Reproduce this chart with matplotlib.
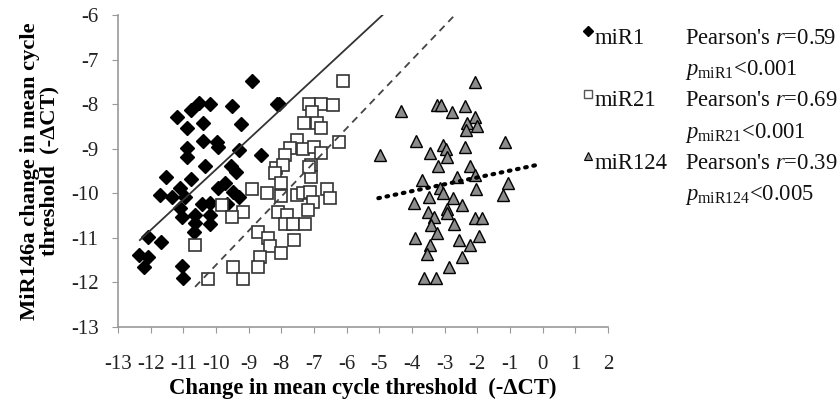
import matplotlib
matplotlib.use("Agg")
import matplotlib.pyplot as plt

plt.rcParams['font.family'] = ['Liberation Serif', 'DejaVu Serif']
plt.rcParams['mathtext.fontset'] = 'custom'
plt.rcParams['mathtext.rm'] = 'Liberation Serif'
plt.rcParams['mathtext.it'] = 'Liberation Serif:italic'
plt.rcParams['axes.unicode_minus'] = False

# miR1 (diamonds)
mir1_x = [-8.91, -11.20, -10.77, -10.51, -10.18, -9.51, -8.12, -8.06, -10.88, -10.41,
          -9.23, -10.39, -9.98, -9.93, -10.90, -10.88, -9.29, -8.63, -10.34, -9.55,
          -9.39, -11.53, -10.77, -11.71, -11.10, -11.36, -10.95, -9.93, -9.72, -9.47,
          -9.29, -10.44, -10.18, -9.67, -11.10, -11.05, -10.64, -10.18, -10.64, -10.18,
          -10.66, -12.09, -11.69, -12.35, -12.07, -12.19, -11.05, -11.00]
mir1_y = [-7.47, -8.28, -8.13, -7.97, -8.00, -8.04, -8.00, -8.00, -8.54, -8.43,
          -8.45, -8.82, -8.84, -8.97, -8.99, -9.18, -9.03, -9.14, -9.39, -9.39,
          -9.52, -9.64, -9.67, -10.03, -9.89, -10.09, -10.08, -9.89, -9.78, -9.96,
          -10.08, -10.23, -10.21, -10.23, -10.34, -10.53, -10.49, -10.49, -10.67, -10.69,
          -10.86, -10.99, -11.09, -11.39, -11.42, -11.66, -11.63, -11.91]

# miR21 (open squares)
mir21_x = [-6.10, -7.14, -6.80, -6.43, -7.07, -7.31, -6.92, -6.77, -7.51, -7.74,
           -7.33, -6.99, -6.77, -6.24, -7.89, -8.16, -7.94, -7.10, -8.19, -7.10,
           -8.02, -8.91, -8.43, -8.02, -7.51, -7.35, -7.12, -6.59, -6.51, -7.04,
           -7.17, -9.83, -9.16, -9.52, -8.10, -7.84, -7.89, -7.63, -7.28, -10.64,
           -8.71, -8.40, -8.35, -7.61, -8.02, -8.65, -8.71, -9.47, -9.18, -10.24,
           -7.14]
mir21_y = [-7.47, -8.00, -8.00, -8.02, -8.17, -8.43, -8.42, -8.54, -8.80, -8.99,
           -9.01, -8.97, -9.09, -8.84, -9.14, -9.44, -9.37, -9.37, -9.55, -9.63,
           -9.78, -9.91, -10.00, -10.06, -10.04, -10.00, -9.96, -9.91, -10.11, -10.19,
           -10.37, -10.26, -10.41, -10.54, -10.41, -10.49, -10.69, -10.69, -10.69, -11.16,
           -10.86, -11.01, -11.18, -11.05, -11.35, -11.42, -11.66, -11.65, -11.93, -11.93,
           -9.40]

# miR124 (grey triangles)
mir124_x = [-2.07, -4.35, -3.23, -3.11, -2.76, -2.38, -2.07, -2.31, -2.00, -2.35,
            -3.88, -3.06, -2.96, -3.45, -2.94, -2.38, -1.15, -4.98, -3.20, -2.21,
            -2.07, -2.63, -3.70, -3.14, -3.04, -3.47, -2.74, -2.04, -1.05, -1.22,
            -3.94, -2.47, -2.92, -3.50, -2.92, -3.33, -2.07, -1.87, -3.43, -2.72,
            -3.23, -3.91, -2.55, -1.94, -3.45, -2.21, -3.55, -2.47, -2.86, -3.63,
            -3.27]
mir124_y = [-7.50, -8.15, -8.02, -8.02, -8.17, -8.04, -8.28, -8.43, -8.49, -8.57,
            -8.83, -8.92, -9.01, -9.09, -9.19, -8.97, -8.84, -9.14, -9.39, -9.39,
            -9.59, -9.64, -9.70, -9.89, -10.00, -10.09, -10.11, -9.91, -9.78, -10.04,
            -10.21, -10.26, -10.36, -10.41, -10.45, -10.54, -10.56, -10.56, -10.71, -10.69,
            -10.88, -11.01, -11.05, -10.96, -11.16, -11.16, -11.36, -11.42, -11.65, -11.91,
            -11.91]

# trend lines, endpoints
fit1_x, fit1_y = [-12.33, -4.90], [-11.05, -6.00]
fit21_x, fit21_y = [-10.64, -2.74], [-12.10, -6.04]
fit124_x, fit124_y = [-5.03, -0.08], [-10.11, -9.35]

series_names = ['miR1', 'miR21', 'miR124']
pearson_r = ['0.59', '0.69', '0.39']
p_values = ['<0.001', '<0.001', '<0.005']

fig = plt.figure(figsize=(8.38, 4.0), dpi=100)
ax = fig.add_axes([0.1408, 0.1825, 0.5847, 0.78])

ax.plot(mir1_x, mir1_y, ls='none', marker='D', ms=7, mfc='black', mec='black')
ax.plot(mir21_x, mir21_y, ls='none', marker='s', ms=8.5, mfc='white', mec='#333333', mew=1.2)
ax.plot(mir124_x, mir124_y, ls='none', marker='^', ms=9, mfc='#8c8c8c', mec='black', mew=1.0)

ax.plot(fit1_x, fit1_y, color='#333333', lw=1.3)
ax.plot(fit21_x, fit21_y, color='#444444', lw=1.3, ls=(0, (4, 3)))
ax.plot(fit124_x, fit124_y, color='black', lw=3, ls=(0, (0.4, 1.6)), dash_capstyle='round')

ax.set_xlim(-13, 2)
ax.set_ylim(-13, -6)
ax.set_xticks(range(-13, 3))
ax.set_yticks(range(-13, -5))
for s in ['top', 'right']:
    ax.spines[s].set_visible(False)
for s in ['left', 'bottom']:
    ax.spines[s].set_color('#999999')
    ax.spines[s].set_linewidth(1.2)
ax.tick_params(direction='out', length=4, color='#999999', labelsize=15,
               labelcolor='#222222')
ax.tick_params(axis='x', pad=16)
ax.tick_params(axis='y', pad=10)

ax.set_xlabel('Change in mean cycle threshold  (-ΔCT)', fontsize=16.3,
              fontweight='bold', labelpad=3)
ax.set_ylabel('MiR146a change in mean cycle\nthreshold  (-ΔCT)', fontsize=16.2,
              fontweight='bold', labelpad=8, linespacing=1.0)

# legend block on the right
markers = [dict(marker='D', ms=5, mfc='black', mec='black'),
           dict(marker='s', ms=6, mfc='white', mec='#555555', mew=1),
           dict(marker='^', ms=6, mfc='#8c8c8c', mec='black', mew=0.8)]
row_y = [0.905, 0.748, 0.592]
for name, r, p, mk, yy in zip(series_names, pearson_r, p_values, markers, row_y):
    ax.plot([0.7017], [yy + 0.018], transform=fig.transFigure, clip_on=False, ls='none', **mk)
    fig.text(0.7095, yy, name, fontsize=16.3, va='center', color='#111111')
    fig.text(0.8174, yy, "Pearson's $r$=" + r, fontsize=16.3, va='center', color='#111111')
    fig.text(0.8174, yy - 0.08, r'$p_{\mathrm{' + name + '}}$' + p, fontsize=16.3,
             va='center', color='#111111')

fig.savefig('out.png', dpi=100)
